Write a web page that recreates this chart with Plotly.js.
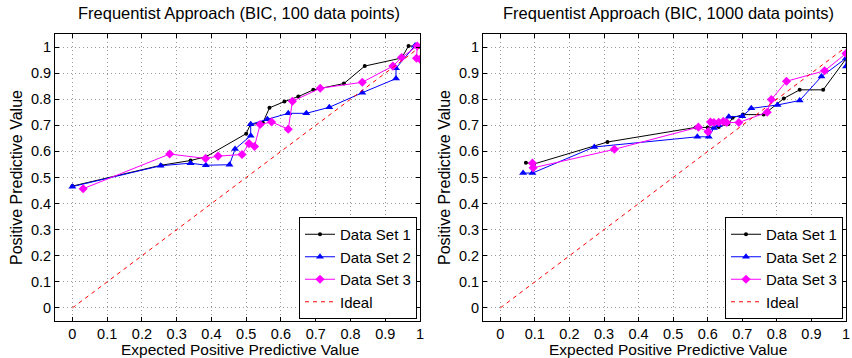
<!DOCTYPE html>
<html>
<head>
<meta charset="utf-8">
<script src="https://cdn.plot.ly/plotly-3.0.1.min.js"></script>
<style>html,body{margin:0;padding:0;background:#fff;}#chart{width:852px;height:358px;}</style>
</head>
<body>
<div id="chart"></div>
<script>
// ---- Left panel: 100 data points ----
const left_ds1_x = [0, 0.255, 0.34, 0.385, 0.50, 0.512, 0.548, 0.567, 0.61, 0.65, 0.693, 0.781, 0.841, 0.947, 0.967, 0.99];
const left_ds1_y = [0.467, 0.547, 0.565, 0.58, 0.668, 0.703, 0.71, 0.767, 0.791, 0.81, 0.836, 0.86, 0.927, 0.958, 1.004, 1.004];
const left_ds2_x = [0, 0.254, 0.34, 0.384, 0.452, 0.468, 0.513, 0.513, 0.561, 0.621, 0.673, 0.739, 0.834, 0.931, 0.931, 0.986, 1.0];
const left_ds2_y = [0.465, 0.545, 0.555, 0.547, 0.549, 0.609, 0.66, 0.704, 0.723, 0.746, 0.746, 0.769, 0.825, 0.879, 0.919, 1.006, 1.0];
const left_ds3_x = [0.031, 0.28, 0.383, 0.419, 0.488, 0.508, 0.524, 0.54, 0.573, 0.621, 0.633, 0.713, 0.834, 0.922, 0.947, 0.992, 0.99, 1.0];
const left_ds3_y = [0.457, 0.59, 0.573, 0.582, 0.588, 0.63, 0.619, 0.703, 0.713, 0.685, 0.792, 0.842, 0.865, 0.927, 0.96, 1.004, 0.957, 0.953];

// ---- Right panel: 1000 data points ----
const right_ds1_x = [0.074, 0.098, 0.31, 0.565, 0.60, 0.632, 0.66, 0.672, 0.702, 0.762, 0.82, 0.866, 0.934, 1.0];
const right_ds1_y = [0.557, 0.552, 0.636, 0.692, 0.692, 0.694, 0.705, 0.729, 0.741, 0.741, 0.803, 0.836, 0.836, 0.955];
const right_ds2_x = [0.066, 0.093, 0.272, 0.57, 0.603, 0.618, 0.632, 0.661, 0.70, 0.726, 0.802, 0.866, 0.929, 1.0, 1.0];
const right_ds2_y = [0.517, 0.517, 0.617, 0.656, 0.656, 0.69, 0.70, 0.733, 0.735, 0.765, 0.778, 0.795, 0.887, 0.957, 0.925];
const right_ds3_x = [0.093, 0.095, 0.33, 0.573, 0.601, 0.608, 0.618, 0.632, 0.645, 0.655, 0.69, 0.772, 0.784, 0.828, 0.938, 1.0];
const right_ds3_y = [0.555, 0.537, 0.608, 0.693, 0.675, 0.713, 0.711, 0.712, 0.715, 0.711, 0.711, 0.75, 0.799, 0.869, 0.909, 0.975];

const ideal_x = [0, 1];
const ideal_y = [0, 1];

const names = ['Data Set 1', 'Data Set 2', 'Data Set 3', 'Ideal'];
const titles = ['Frequentist Approach (BIC, 100 data points)', 'Frequentist Approach (BIC, 1000 data points)'];
const xTitle = 'Expected Positive Predictive Value';
const yTitle = 'Positive Predictive Value';
const tickVals = [0, 0.1, 0.2, 0.3, 0.4, 0.5, 0.6, 0.7, 0.8, 0.9, 1];
const tickText = ['0', '0.1', '0.2', '0.3', '0.4', '0.5', '0.6', '0.7', '0.8', '0.9', '1'];

const FONT = 'Liberation Sans, Arial, Helvetica, sans-serif';

function panelTraces(xs, ys, xa, ya, leg) {
  const styles = [
    {line: {color: '#000000', width: 1}, marker: {symbol: 'circle', size: 4, color: '#000000'}},
    {line: {color: '#0000ff', width: 1}, marker: {symbol: 'triangle-up', size: 7, color: '#0000ff'}},
    {line: {color: '#ff00ff', width: 1}, marker: {symbol: 'diamond', size: 7, color: '#ff00ff'}}
  ];
  const tr = [];
  for (let i = 0; i < 3; i++) {
    tr.push({x: xs[i], y: ys[i], type: 'scatter', mode: 'lines+markers', name: names[i],
      xaxis: xa, yaxis: ya, legend: leg, line: styles[i].line, marker: styles[i].marker});
  }
  tr.push({x: ideal_x, y: ideal_y, type: 'scatter', mode: 'lines', name: names[3],
    xaxis: xa, yaxis: ya, legend: leg, line: {color: '#ff0000', width: 1, dash: '4px,4px'}});
  return tr;
}

const data = [].concat(
  panelTraces([left_ds1_x, left_ds2_x, left_ds3_x], [left_ds1_y, left_ds2_y, left_ds3_y], 'x', 'y', 'legend'),
  panelTraces([right_ds1_x, right_ds2_x, right_ds3_x], [right_ds1_y, right_ds2_y, right_ds3_y], 'x2', 'y2', 'legend2')
);

const common = {
  tickvals: tickVals, ticktext: tickText,
  ticks: 'inside', ticklen: 4, tickcolor: '#000', showline: true, linecolor: '#000', linewidth: 1,
  mirror: 'allticks', showgrid: true, gridcolor: '#9a9a9a', griddash: '1px,3px', gridwidth: 1,
  zeroline: false, tickfont: {family: FONT, size: 14.5, color: '#000'}, automargin: false,
  ticklabeloverflow: 'allow'
};

function xAxis(dom, anchor) {
  return Object.assign({}, common, {domain: dom, anchor: anchor, range: [-0.05, 1]});
}
function yAxis(dom, anchor) {
  return Object.assign({}, common, {domain: dom, anchor: anchor, range: [-0.05, 1.05],
    title: {text: yTitle, font: {family: FONT, size: 16, color: '#000'}, standoff: 4}});
}

const leftDom = [55 / 852, 420 / 852];
const rightDom = [483 / 852, 846 / 852];
const yDom = [37 / 358, 324 / 358];
const legendBase = {bgcolor: '#ffffff', bordercolor: '#000000', borderwidth: 1,
  font: {family: FONT, size: 15, color: '#000'}, xref: 'paper', yref: 'paper',
  xanchor: 'right', yanchor: 'bottom', y: 39 / 358, tracegroupgap: 0, itemwidth: 30};

function ann(text, xpx, ypx, size) {
  return {text: text, xref: 'paper', yref: 'paper', x: xpx / 852, y: 1 - ypx / 358,
    xanchor: 'center', yanchor: 'middle', showarrow: false,
    font: {family: FONT, size: size, color: '#000'}};
}

const layout = {
  width: 852, height: 358,
  margin: {l: 0, r: 0, t: 0, b: 0},
  paper_bgcolor: '#ffffff', plot_bgcolor: '#ffffff',
  font: {family: FONT, color: '#000'},
  xaxis: xAxis(leftDom, 'y'),
  yaxis: yAxis(yDom, 'x'),
  xaxis2: xAxis(rightDom, 'y2'),
  yaxis2: yAxis(yDom, 'x2'),
  legend: Object.assign({}, legendBase, {x: 417 / 852}),
  legend2: Object.assign({}, legendBase, {x: 843 / 852}),
  showlegend: true,
  annotations: [
    ann(titles[0], 239.5, 13, 16.5),
    ann(titles[1], 668.5, 13, 16.5),
    ann(xTitle, 240, 349.5, 15.5),
    ann(xTitle, 668, 349.5, 15.5)
  ]
};

Plotly.newPlot('chart', data, layout, {displayModeBar: false, staticPlot: true});
</script>
</body>
</html>
